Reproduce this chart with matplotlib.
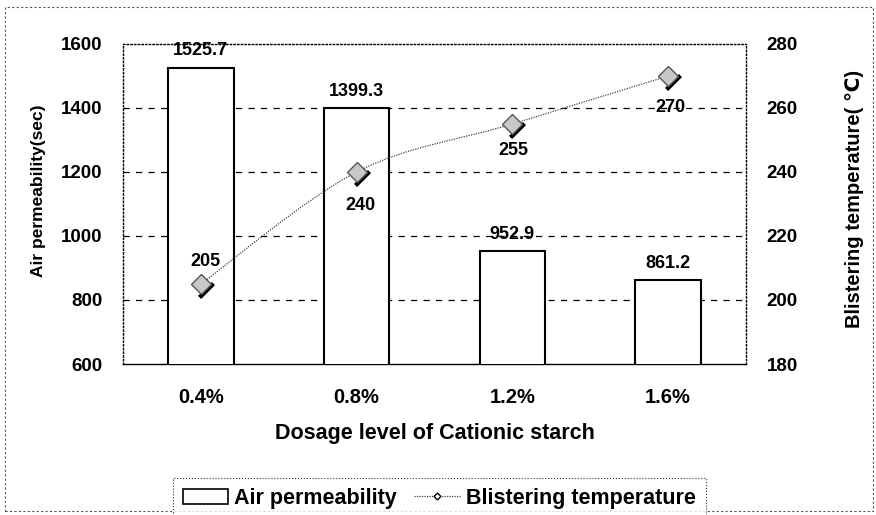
import numpy as np
import matplotlib.pyplot as plt
import matplotlib.transforms as mtransforms
from matplotlib.path import Path
from matplotlib.patches import PathPatch, Rectangle
from matplotlib.lines import Line2D

plt.rcParams['font.family'] = ['Liberation Sans', 'DejaVu Sans']
plt.rcParams['font.weight'] = 'bold'
plt.rcParams['axes.labelweight'] = 'bold'

# Data
dosage = ['0.4%', '0.8%', '1.2%', '1.6%']
air_perm = [1525.7, 1399.3, 952.9, 861.2]
blister_temp = [205, 240, 255, 270]
perm_labels = ['1525.7', '1399.3', '952.9', '861.2']
temp_labels = ['205', '240', '255', '270']

fig = plt.figure(figsize=(8.76, 5.15), dpi=100)
ax = fig.add_axes([0.1404, 0.2932, 0.7112, 0.6214])
x = np.arange(len(dosage))

# bars
ax.bar(x, air_perm, width=0.42, color='white', edgecolor='black', linewidth=1.5, zorder=3)
ax.set_ylim(600, 1600)
ax.set_xlim(-0.5, 3.5)
ax.set_yticks([600, 800, 1000, 1200, 1400, 1600])
for y in [800, 1000, 1200, 1400]:
    ax.axhline(y, color='black', linestyle=(0, (5, 5)), linewidth=0.9, zorder=1)
ax.set_xticks(x)
ax.set_xticklabels(dosage, fontsize=14.5, fontweight='bold')
ax.tick_params(axis='x', length=0, pad=17)
ax.tick_params(axis='y', length=0, labelsize=13.5, pad=15)
for s in ax.spines.values():
    s.set_linestyle(':')
    s.set_linewidth(1.0)
ax.spines['bottom'].set_linestyle('-')
ax.set_xlabel('Dosage level of Cationic starch', fontsize=15.5, labelpad=12)
ax.set_ylabel('Air permeability(sec)', fontsize=12.5)
ax.yaxis.set_label_coords(-0.124, 0.54)

for xi, v, t in zip(x, air_perm, perm_labels):
    ax.annotate(t, (xi, v), xytext=(0, 6), textcoords='offset points',
                ha='center', va='bottom', fontsize=13, fontweight='bold', zorder=5)

# secondary axis
ax2 = ax.twinx()
ax2.set_ylim(180, 280)
ax2.set_yticks([180, 200, 220, 240, 260, 280])
ax2.tick_params(axis='y', length=0, labelsize=13.5, pad=15)
for s in ax2.spines.values():
    s.set_visible(False)
ax2.set_ylabel('Blistering temperature( ℃)', fontsize=14.5)
ax2.yaxis.set_label_coords(1.159, 0.515)

# smooth line through points (Catmull-Rom as cubic Bezier)
pts = np.column_stack([x, blister_temp]).astype(float)
verts = [tuple(pts[0])]
codes = [Path.MOVETO]
for i in range(len(pts) - 1):
    p0 = pts[i - 1] if i > 0 else pts[i]
    p1, p2 = pts[i], pts[i + 1]
    p3 = pts[i + 2] if i + 2 < len(pts) else pts[i + 1]
    c1 = p1 + (p2 - p0) / 6.0
    c2 = p2 - (p3 - p1) / 6.0
    verts += [tuple(c1), tuple(c2), tuple(p2)]
    codes += [Path.CURVE4] * 3
ax2.add_patch(PathPatch(Path(verts, codes), facecolor='none', edgecolor='#444444',
                        linestyle=(0, (1, 1)), linewidth=0.9, zorder=4))

# marker shadow bars
shadow = mtransforms.offset_copy(ax2.transData, fig=fig, x=5, y=-6, units='dots')
ax2.plot(x, blister_temp, linestyle='none', marker=[(-1, -1), (1, 1)],
         markersize=10, markeredgewidth=3.2, color='black', transform=shadow, zorder=5)
ax2.plot(x, blister_temp, linestyle='none', marker='D', markersize=10,
         markerfacecolor='#c8c8c8', markeredgecolor='#555555', markeredgewidth=1.0, zorder=6)

offsets = [(3, 16), (3, -24), (1, -19), (2, -23)]
for xi, v, t, (dx, dy) in zip(x, blister_temp, temp_labels, offsets):
    ax2.annotate(t, (xi, v), xytext=(dx, dy), textcoords='offset points',
                 ha='center', va='center', fontsize=13, fontweight='bold', zorder=7)

# legend
h_bar = Rectangle((0, 0), 1, 1, facecolor='white', edgecolor='black', linewidth=1.2)
h_line = Line2D([], [], color='#444444', linestyle=(0, (1, 1)), linewidth=0.9,
                marker='D', markersize=3.5, markerfacecolor='white', markeredgecolor='black')
leg = fig.legend([h_bar, h_line], ['Air permeability', 'Blistering temperature'],
                 loc='upper left', bbox_to_anchor=(173 / 876, 1 - 478 / 515), ncol=2,
                 fontsize=15.5, frameon=True, fancybox=False, handlelength=2.1,
                 handletextpad=0.3, columnspacing=0.8, borderpad=0.45, borderaxespad=0)
for t in leg.get_texts():
    t.set_fontweight('bold')
leg.get_frame().set_edgecolor('black')
leg.get_frame().set_linestyle(':')
leg.get_frame().set_linewidth(0.8)

# figure border
fig.patches.append(Rectangle((5 / 876, 4 / 515), 868 / 876, 504 / 515, transform=fig.transFigure,
                             fill=False, edgecolor='#555555', linestyle=(0, (2, 2)),
                             linewidth=0.8))

fig.savefig('out.png', dpi=100)
